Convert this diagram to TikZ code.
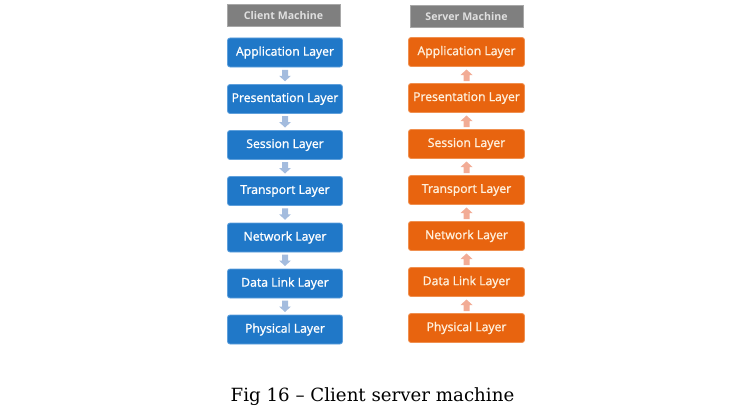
\documentclass[tikz,border=0pt]{standalone}
\usepackage{fontspec}
\setmainfont{DejaVu Serif}
\newfontfamily\boxfont{Open Sans}[FakeBold=1.2]
\newfontfamily\headfont{Open Sans}
\definecolor{cblue}{HTML}{2078C8}
\definecolor{cblueedge}{HTML}{5FA0DC}
\definecolor{corange}{HTML}{E8640F}
\definecolor{corangeedge}{HTML}{F09050}
\definecolor{hgray}{HTML}{7F7F7F}
\definecolor{hgrayedge}{HTML}{A8A8A8}
\definecolor{htext}{HTML}{E0E0E0}
\definecolor{ablue}{HTML}{A4BCDE}
\definecolor{aorange}{HTML}{F2AC96}
\definecolor{otext}{HTML}{FFF0DC}
\tikzset{
  header/.style={draw=hgrayedge, line width=1pt, fill=hgray, minimum width=113pt, minimum height=22pt, inner sep=0pt, text=htext, font=\headfont\fontsize{10.6}{12}\selectfont\bfseries},
  clientbox/.style={draw=cblueedge, line width=0.8pt, fill=cblue, rounded corners=2.5pt, minimum width=115pt, minimum height=29pt, inner sep=0pt, text=white, font=\boxfont\fontsize{12.2}{14}\selectfont},
  serverbox/.style={draw=corangeedge, line width=0.8pt, fill=corange, rounded corners=2.5pt, minimum width=116pt, minimum height=29pt, inner sep=0pt, text=otext, font=\boxfont\fontsize{12.2}{14}\selectfont},
  caption/.style={font=\fontsize{18.2}{22}\selectfont, inner sep=0pt, anchor=base}
}
\newcommand{\downarr}[2]{% #1 upper node, #2 lower node
  \path (#1.south) -- (#2.north) coordinate[midway] (m);
  \fill[ablue] ([shift={(-3,-6)}]m) -- ([shift={(3,-6)}]m) -- ([shift={(3,0)}]m) -- ([shift={(6,0)}]m) -- ([shift={(0,5.5)}]m) -- ([shift={(-6,0)}]m) -- ([shift={(-3,0)}]m) -- cycle;
}
\newcommand{\uparr}[2]{%
  \path (#1.south) -- (#2.north) coordinate[midway] (m);
  \fill[aorange] ([shift={(-3,6)}]m) -- ([shift={(3,6)}]m) -- ([shift={(3,0)}]m) -- ([shift={(6,0)}]m) -- ([shift={(0,-5.5)}]m) -- ([shift={(-6,0)}]m) -- ([shift={(-3,0)}]m) -- cycle;
}
\begin{document}
\begin{tikzpicture}[x=1pt,y=-1pt]
\useasboundingbox (0,0) rectangle (743,412);
\node[header] (ch) at (283.5,16) {Client Machine};
\node[header] (sh) at (466.5,16.5) {Server Machine};
% client
\node[clientbox] (c1) at (285,52.5) {Application Layer};
\node[clientbox] (c2) at (285,99) {Presentation Layer};
\node[clientbox] (c3) at (285,145) {Session Layer};
\node[clientbox] (c4) at (285,191) {Transport Layer};
\node[clientbox] (c5) at (285,237.5) {Network Layer};
\node[clientbox] (c6) at (285,283.5) {Data Link Layer};
\node[clientbox] (c7) at (285,329.5) {Physical Layer};
% server
\node[serverbox] (s1) at (466.5,52) {Application Layer};
\node[serverbox] (s2) at (466.5,98) {Presentation Layer};
\node[serverbox] (s3) at (466.5,144) {Session Layer};
\node[serverbox] (s4) at (466.5,190) {Transport Layer};
\node[serverbox] (s5) at (466.5,236) {Network Layer};
\node[serverbox] (s6) at (466.5,282) {Data Link Layer};
\node[serverbox] (s7) at (466.5,328) {Physical Layer};
% arrows
\downarr{c1}{c2}\downarr{c2}{c3}\downarr{c3}{c4}\downarr{c4}{c5}\downarr{c5}{c6}\downarr{c6}{c7}
\uparr{s1}{s2}\uparr{s2}{s3}\uparr{s3}{s4}\uparr{s4}{s5}\uparr{s5}{s6}\uparr{s6}{s7}
\node[caption] (cap) at (372.5,401) {Fig 16 -- Client server machine};
\end{tikzpicture}
\end{document}
